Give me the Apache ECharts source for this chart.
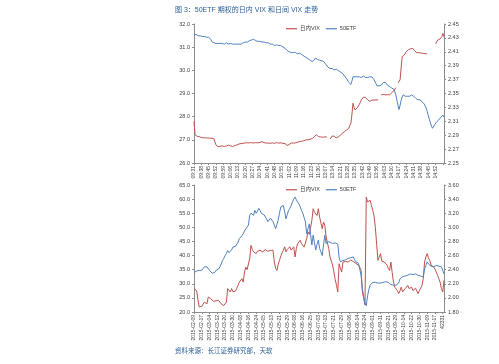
<!DOCTYPE html>
<html><head><meta charset="utf-8">
<script src="https://cdn.jsdelivr.net/npm/echarts@6/dist/echarts.min.js"></script>
<style>html,body{margin:0;padding:0;background:#fff}#c{width:499px;height:364px}</style>
</head><body><div id="c"></div>
<script>
// ---- Top chart: intraday (1-minute) ----
const intradayTickLabels = ['09:31','09:38','09:45','09:52','09:59','10:06','10:13','10:20','10:27','10:34','10:41','10:48','10:55','11:02','11:09','11:16','11:23','11:30','13:07','13:14','13:21','13:28','13:35','13:42','13:49','13:56','14:03','14:10','14:17','14:24','14:31','14:38','14:45','14:52'];
const intradayVix = [
27.79,
27.22,27.18,27.15,27.15,27.14,27.12,27.10,
27.08,27.09,27.08,27.08,27.07,27.08,27.08,27.07,27.06,27.07,27.06,27.05,27.04,
26.78,26.72,26.70,26.71,26.72,26.70,26.74,26.72,26.71,26.73,26.74,26.75,26.77,26.76,26.74,26.73,26.71,26.74,26.75,
26.76,26.78,26.80,26.82,26.83,26.84,26.86,26.85,26.86,26.87,
26.86,26.87,26.88,26.87,26.86,26.88,26.87,26.86,26.87,26.88,26.86,26.87,26.88,26.89,26.90,26.92,
26.90,26.88,26.87,26.86,26.87,26.86,26.86,26.85,26.86,26.87,26.86,26.85,26.86,26.88,
26.87,26.86,26.88,26.87,26.86,26.85,26.86,26.84,26.80,26.76,26.75,26.80,26.84,26.86,
26.85,26.86,26.88,26.87,26.89,26.90,26.91,26.92,26.93,26.94,26.95,26.96,26.98,
27.00,27.01,27.00,27.02,27.03,27.04,27.05,27.08,27.14,27.20,
27.22,27.18,27.14,27.12,27.13,27.12,27.11,27.12,27.13,27.12,27.12,
null,null,
27.03,27.10,27.16,27.22,27.16,27.10,27.08,27.10,27.13,27.15,27.20,27.25,
27.29,27.32,27.36,27.40,27.43,27.43,27.50,27.62,27.72,28.10,
28.58,28.40,28.29,28.33,28.38,28.43,28.52,28.62,28.73,28.78,
28.84,28.87,28.83,28.78,28.73,28.68,28.66,28.69,28.71,28.70,28.72,28.73,28.72,28.74,28.73,
null,null,
28.94,28.95,28.96,28.95,28.94,28.95,28.95,28.94,28.94,28.98,29.03,29.08,29.12,29.16,
29.25,null,29.45,
29.52,29.59,30.10,30.59,
30.62,30.66,30.72,30.81,30.86,30.89,30.91,30.93,30.94,30.95,30.90,30.84,30.79,
30.76,30.77,30.76,30.76,30.75,30.74,30.73,30.72,30.72,30.71,30.71,
null,null,null,null,null,null,null,
31.14,31.22,31.31,31.33,31.35,31.38,31.45,31.60,31.45
];
const intradayEtf = [
2.434,2.434,2.435,2.434,2.433,2.434,2.433,
2.433,2.432,2.431,2.432,2.431,2.431,2.432,2.431,
2.431,2.428,2.425,2.424,2.423,2.422,
2.422,2.421,2.422,2.423,2.422,2.421,2.422,2.422,2.421,2.422,2.423,2.422,2.421,2.421,2.422,2.422,2.421,2.422,2.421,2.420,2.421,2.422,2.421,2.422,
2.421,2.422,2.423,2.423,2.424,2.425,2.424,2.425,2.426,2.426,2.427,2.427,2.428,
2.428,
2.426,2.425,2.425,2.424,2.425,2.425,2.424,2.423,2.424,2.424,2.423,2.422,2.423,2.422,
2.421,2.420,2.421,2.420,2.419,2.420,2.420,2.419,2.419,2.420,2.419,2.418,2.417,2.416,2.415,2.413,
2.412,2.411,2.410,2.410,2.409,2.410,2.409,2.408,2.409,2.408,2.407,2.408,2.408,2.407,2.406,2.405,
2.404,2.403,2.402,2.401,2.400,2.399,2.398,2.397,2.396,2.396,2.398,2.401,
2.400,2.399,2.399,2.398,2.398,2.397,2.398,2.396,2.394,2.392,2.390,2.388,2.387,
2.386,2.385,2.386,2.385,2.384,2.385,2.385,2.384,2.383,2.382,2.381,2.380,
2.379,2.377,2.375,2.373,2.371,2.369,2.366,2.365,2.363,2.368,
2.374,2.373,2.374,2.375,2.374,2.373,2.374,2.374,2.373,2.374,2.375,2.374,2.373,2.374,2.373,2.374,2.374,2.375,2.374,2.373,
2.370,2.367,2.364,2.361,2.360,2.361,2.362,2.362,2.364,2.366,
2.367,2.366,2.364,2.362,2.361,2.360,2.359,2.358,2.357,2.356,
2.355,2.348,2.340,2.333,2.327,2.333,2.340,2.345,
2.348,2.347,2.346,2.345,2.346,2.345,2.346,2.347,2.348,2.348,
2.346,2.344,2.343,2.342,2.341,2.340,2.341,2.339,2.338,2.338,
2.335,2.332,2.329,2.324,2.318,2.313,2.308,2.303,2.300,2.302,
2.305,2.307,2.309,2.310,2.312,2.314,2.316,2.318,2.319,2.316
];
// ---- Bottom chart: daily ----
const dailyTickLabels = ['2015-02-09','2015-02-17','2015-03-04','2015-03-12','2015-03-20','2015-03-30','2015-04-08','2015-04-16','2015-04-24','2015-05-05','2015-05-13','2015-05-21','2015-05-29','2015-06-08','2015-06-16','2015-06-25','2015-07-03','2015-07-13','2015-07-21','2015-07-29','2015-08-06','2015-08-14','2015-08-24','2015-09-01','2015-09-11','2015-09-21','2015-09-29','2015-10-14','2015-10-22','2015-10-30','2015-11-09','2015-11-17','42331'];
const dailyVix = [
28.3,27.9,27.6,24.5,21.8,21.5,22.0,22.4,23.5,23.2,
22.9,25.3,25.8,24.7,24.3,23.8,23.5,24.0,23.6,24.1,
23.4,22.9,22.6,22.3,22.4,23.5,28.3,27.8,27.1,28.3,
27.2,26.5,27.4,28.3,27.6,30.6,31.0,31.8,30.6,34.2,
35.9,35.0,34.7,38.9,43.6,42.2,41.3,41.9,40.7,41.5,
42.0,41.9,41.6,41.3,41.8,42.1,41.9,41.5,41.3,41.8,
42.0,41.9,37.7,35.5,34.7,36.8,38.3,39.8,41.0,41.9,
43.1,41.3,42.2,42.8,43.1,41.9,42.6,43.1,39.5,42.5,
44.2,44.8,45.4,44.2,43.5,43.0,42.5,46.0,48.4,47.5,
49.8,52.5,56.6,55.4,54.8,54.2,56.6,53.6,51.5,49.5,
51.9,50.7,46.6,44.5,42.5,39.5,38.0,36.6,34.2,31.5,
29.5,27.1,37.1,35.5,34.2,37.7,38.3,37.9,38.1,37.7,
38.0,38.4,38.3,37.9,37.7,37.2,36.9,36.6,35.8,34.7,
27.1,24.8,22.5,60.7,59.0,59.6,59.6,57.8,56.0,54.0,
50.0,44.0,38.3,39.5,40.7,38.0,37.5,37.7,37.0,36.6,
35.5,34.7,37.7,34.0,30.6,28.8,28.2,27.6,26.5,27.5,
28.8,27.1,27.8,28.3,27.6,29.4,28.3,28.6,28.8,27.6,
28.0,28.4,28.3,26.5,27.6,28.2,29.4,31.8,37.7,39.5,
40.7,39.2,38.3,36.6,36.3,36.0,35.2,34.2,33.0,31.8,
30.6,28.3,27.1,31.2
];
const dailyEtf = [
2.36,2.37,2.38,2.38,2.39,2.38,2.39,2.39,2.44,2.43,
2.44,2.43,2.39,2.37,2.35,2.34,2.36,2.39,2.38,2.41,
2.44,2.48,2.53,2.56,2.60,2.63,2.67,2.64,2.63,2.68,
2.72,2.70,2.73,2.75,2.79,2.84,2.86,2.88,2.91,2.95,
2.98,3.00,3.03,3.17,3.20,3.18,3.17,3.24,3.20,3.23,
3.27,3.24,3.20,3.19,3.18,3.17,3.12,3.08,3.10,3.13,
3.15,3.08,3.03,2.98,3.04,3.10,3.20,3.29,3.30,3.31,
3.22,3.12,3.18,3.24,3.27,3.31,3.36,3.40,3.43,3.39,
3.36,3.33,3.29,3.24,3.20,3.14,3.08,2.91,2.98,3.05,
2.90,2.75,2.89,2.78,2.68,2.76,2.82,2.70,2.65,2.60,
2.75,2.89,2.77,2.80,2.78,2.79,2.77,2.77,2.76,2.78,
2.77,2.76,2.58,2.51,2.53,2.53,2.51,2.54,2.53,2.56,
2.58,2.57,2.56,2.58,2.54,2.51,2.50,2.49,2.48,2.32,
2.13,2.02,1.92,1.89,2.03,2.12,2.18,2.20,2.22,2.21,
2.22,2.20,2.21,2.22,2.21,2.23,2.22,2.21,2.23,2.25,
2.22,2.20,2.19,2.20,2.18,2.17,2.18,2.19,2.21,2.27,
2.28,2.30,2.30,2.31,2.32,2.32,2.33,2.34,2.34,2.33,
2.34,2.34,2.33,2.32,2.32,2.31,2.30,2.30,2.41,2.46,
2.51,2.48,2.46,2.45,2.44,2.44,2.45,2.46,2.45,2.45,
2.45,2.44,2.44,2.34
];
const seriesNames = ['日内VIX','50ETF'];
const titleText = '图 3：50ETF 期权的日内 VIX 和日间 VIX 走势';
const sourceText = '资料来源：长江证券研究部，天软';

const RED = '#c0504d', BLUE = '#4f81bd', AX = '#8c8c8c', TXT = '#404040';
const FONT = "'Liberation Sans','Noto Sans CJK SC',sans-serif";
const topCats = intradayVix.map((_, i) => String(i));
const botCats = dailyVix.map((_, i) => String(i));

function yAxis(grid, min, max, interval, dec, pos) {
  return {
    type: 'value', gridIndex: grid, min, max, interval, position: pos,
    axisLine: {show: true, lineStyle: {color: AX, width: 1}},
    axisTick: {show: true, length: 2, lineStyle: {color: AX}},
    splitLine: {show: false},
    axisLabel: {fontSize: 5.5, color: TXT, fontFamily: FONT, margin: 4, formatter: v => v.toFixed(dec)}
  };
}
function xAxis(grid, cats, labels, step) {
  return {
    type: 'category', gridIndex: grid, data: cats, boundaryGap: false,
    axisLine: {show: true, lineStyle: {color: AX, width: 1}},
    axisTick: {show: true, interval: step - 1, length: 2, lineStyle: {color: AX}},
    axisLabel: {interval: step - 1, rotate: 90, fontSize: 5, color: TXT, fontFamily: FONT, margin: 3,
      formatter: (v) => { const i = +v; return i % step === 0 ? (labels[i / step] || '') : ''; }},
    splitLine: {show: false}
  };
}
const legendCommon = {
  icon: 'rect', itemWidth: 11, itemHeight: 1.2, itemGap: 6,
  textStyle: {fontSize: 5.5, color: TXT, fontFamily: FONT, padding: [0, 0, 0, -2]},
  data: seriesNames
};
const lineCommon = {type: 'line', showSymbol: false, symbol: 'none', connectNulls: false, animation: false};

const chart = echarts.init(document.getElementById('c'), null, {renderer: 'canvas'});
chart.setOption({
  backgroundColor: '#fff',
  animation: false,
  title: [
    {text: titleText, left: 175, top: 7, textStyle: {fontSize: 7, fontWeight: 'normal', color: '#2a6099', fontFamily: FONT}, padding: 0},
    {text: sourceText, left: 175, top: 348, textStyle: {fontSize: 6.5, fontWeight: 'normal', color: '#2a6099', fontFamily: FONT}, padding: 0}
  ],
  legend: [
    Object.assign({left: 286, top: 26, padding: 0}, legendCommon),
    Object.assign({left: 286, top: 187, padding: 0}, legendCommon)
  ],
  grid: [
    {left: 194, right: 55, top: 24, height: 139, containLabel: false},
    {left: 194, right: 55, top: 185, height: 127, containLabel: false}
  ],
  xAxis: [xAxis(0, topCats, intradayTickLabels, 7), xAxis(1, botCats, dailyTickLabels, 6)],
  yAxis: [
    yAxis(0, 26, 32, 1, 1, 'left'),
    yAxis(0, 2.25, 2.45, 0.02, 2, 'right'),
    yAxis(1, 20, 65, 5, 1, 'left'),
    yAxis(1, 1.8, 3.6, 0.2, 2, 'right')
  ],
  series: [
    Object.assign({name: seriesNames[0], xAxisIndex: 0, yAxisIndex: 0, data: intradayVix, lineStyle: {color: RED, width: 1}, itemStyle: {color: RED}}, lineCommon),
    Object.assign({name: seriesNames[1], xAxisIndex: 0, yAxisIndex: 1, data: intradayEtf, lineStyle: {color: BLUE, width: 1}, itemStyle: {color: BLUE}}, lineCommon),
    Object.assign({name: seriesNames[0], xAxisIndex: 1, yAxisIndex: 2, data: dailyVix, lineStyle: {color: RED, width: 1}, itemStyle: {color: RED}}, lineCommon),
    Object.assign({name: seriesNames[1], xAxisIndex: 1, yAxisIndex: 3, data: dailyEtf, lineStyle: {color: BLUE, width: 1}, itemStyle: {color: BLUE}}, lineCommon)
  ]
});
</script></body></html>
